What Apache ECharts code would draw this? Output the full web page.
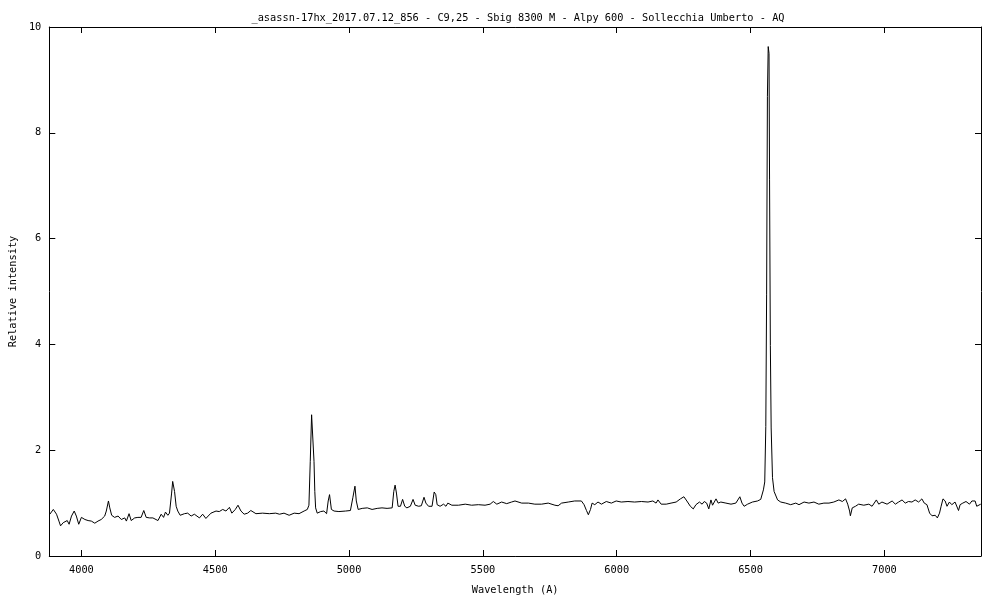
<!DOCTYPE html>
<html>
<head>
<meta charset="utf-8">
<script src="https://cdn.jsdelivr.net/npm/echarts@6/dist/echarts.min.js"></script>
<style>html,body{margin:0;padding:0;background:#fff}#c{width:1000px;height:600px}</style>
</head>
<body>
<div id="c"></div>
<script>
var wavelength = [3882,3895,3907,3916,3922,3932,3939,3947,3954,3963,3973,3981,3990,4000,4013,4025,4037,4050,4062,4074,4087,4093,4101,4106,4113,4124,4137,4149,4162,4168,4178,4186,4199,4211,4223,4233,4242,4255,4267,4286,4298,4307,4314,4323,4329,4337,4341,4348,4354,4360,4369,4385,4397,4410,4422,4441,4453,4465,4484,4503,4515,4528,4540,4553,4562,4575,4585,4596,4608,4621,4633,4652,4677,4702,4726,4740,4757,4776,4795,4813,4832,4844,4850,4855,4860,4865,4869,4872,4875,4881,4894,4906,4916,4922,4927,4934,4944,4962,4987,5005,5014,5022,5027,5034,5049,5068,5086,5105,5123,5142,5161,5167,5172,5177,5183,5192,5200,5208,5216,5229,5239,5247,5260,5270,5280,5287,5297,5310,5318,5324,5329,5340,5353,5362,5369,5384,5409,5434,5458,5483,5508,5527,5539,5552,5570,5589,5607,5620,5645,5670,5694,5719,5744,5769,5781,5794,5819,5843,5868,5878,5887,5894,5902,5908,5918,5930,5943,5961,5980,5998,6017,6042,6067,6092,6117,6135,6147,6154,6166,6185,6203,6222,6238,6251,6262,6275,6286,6296,6309,6319,6327,6336,6344,6352,6358,6364,6371,6379,6389,6408,6427,6445,6460,6468,6476,6489,6507,6526,6538,6548,6553,6557,6560,6563,6566,6569,6571,6574,6577,6582,6588,6601,6613,6631,6650,6669,6681,6700,6718,6737,6755,6774,6793,6811,6830,6843,6855,6863,6870,6873,6880,6892,6904,6923,6942,6954,6970,6979,6991,7010,7029,7041,7053,7066,7078,7090,7103,7115,7128,7140,7149,7159,7169,7178,7190,7198,7206,7212,7219,7227,7234,7243,7252,7264,7277,7283,7293,7305,7318,7327,7339,7345,7351,7360];
var intensity = [0.79,0.88,0.79,0.66,0.57,0.63,0.60,0.67,0.60,0.755,0.85,0.755,0.60,0.73,0.69,0.67,0.66,0.62,0.66,0.69,0.755,0.85,1.04,0.91,0.77,0.73,0.755,0.69,0.72,0.66,0.80,0.67,0.72,0.73,0.73,0.86,0.73,0.72,0.72,0.67,0.79,0.73,0.83,0.77,0.81,1.19,1.41,1.22,0.94,0.85,0.77,0.80,0.81,0.755,0.79,0.72,0.79,0.71,0.81,0.85,0.84,0.88,0.85,0.92,0.81,0.88,0.96,0.85,0.79,0.81,0.86,0.80,0.81,0.80,0.81,0.79,0.81,0.77,0.81,0.80,0.85,0.88,0.96,1.79,2.67,2.66,1.79,1.22,0.91,0.81,0.84,0.85,0.80,1.04,1.16,0.88,0.85,0.84,0.85,0.86,1.10,1.32,1.04,0.88,0.90,0.91,0.88,0.90,0.91,0.90,0.91,1.22,1.34,1.19,0.94,0.94,1.07,0.94,0.91,0.94,1.07,0.96,0.94,0.95,1.11,1.00,0.94,0.94,1.21,1.16,0.97,0.94,0.98,0.94,1.00,0.96,0.96,0.98,0.96,0.97,0.96,0.98,1.03,0.98,1.02,0.99,1.02,1.04,1.00,1.00,0.98,0.98,1.00,0.96,0.95,1.00,1.02,1.04,1.04,0.97,0.86,0.78,0.88,1.00,0.97,1.02,0.98,1.03,1.00,1.04,1.02,1.03,1.02,1.03,1.02,1.04,1.00,1.06,0.98,0.98,1.00,1.02,1.08,1.12,1.04,0.94,0.89,0.97,1.02,0.98,1.03,1.00,0.89,1.06,0.96,0.94,1.08,1.00,1.02,1.00,0.98,1.00,1.12,1.00,0.94,0.98,1.02,1.04,1.07,1.25,1.40,2.45,4.95,8.69,9.63,9.50,7.11,3.98,2.42,1.48,1.22,1.06,1.02,1.00,0.97,1.00,0.97,1.02,1.00,1.02,0.98,1.00,1.00,1.02,1.06,1.03,1.08,0.98,0.85,0.76,0.91,0.94,0.98,0.96,0.98,0.94,1.06,0.98,1.02,0.98,1.04,0.98,1.02,1.06,1.00,1.03,1.02,1.06,1.02,1.08,1.00,0.97,0.81,0.76,0.77,0.72,0.81,0.94,1.08,1.04,0.94,1.02,0.97,1.02,0.86,0.97,1.00,1.03,0.98,1.04,1.04,0.94,0.97,0.98];
var xTicks = [4000,4500,5000,5500,6000,6500,7000];
var yTicks = [0,2,4,6,8,10];

var FONT = 'DejaVu Sans Mono';
var data = wavelength.map(function (w, i) { return [w, intensity[i]]; });
var lineStyle = { color: '#000', width: 1 };
function plain(v) { return String(v); }
function xAx(pos, showLabel) {
  return {
    type: 'value', position: pos, min: 3880, max: 7361,
    axisLine: { show: true, onZero: false, lineStyle: lineStyle },
    axisTick: { show: true, inside: true, length: 6, lineStyle: lineStyle, customValues: xTicks },
    axisLabel: { show: showLabel, customValues: xTicks, formatter: plain, color: '#000', fontFamily: FONT, fontSize: 10.3, margin: 9 },
    splitLine: { show: false },
    name: showLabel ? 'Wavelength (A)' : '', nameLocation: 'middle', nameGap: 29,
    nameTextStyle: { color: '#000', fontFamily: FONT, fontSize: 10.3 }
  };
}
function yAx(pos, showLabel) {
  return {
    type: 'value', position: pos, min: 0, max: 10,
    axisLine: { show: true, onZero: false, lineStyle: lineStyle },
    axisTick: { show: true, inside: true, length: 6, lineStyle: lineStyle, customValues: yTicks },
    axisLabel: { show: showLabel, customValues: yTicks, formatter: plain, color: '#000', fontFamily: FONT, fontSize: 10.3, margin: 8 },
    splitLine: { show: false },
    name: showLabel ? 'Relative intensity' : '', nameLocation: 'middle', nameGap: 30, nameRotate: 90,
    nameTextStyle: { color: '#000', fontFamily: FONT, fontSize: 10.3 }
  };
}
var chart = echarts.init(document.getElementById('c'), null, { renderer: 'canvas' });
chart.setOption({
  animation: false,
  backgroundColor: '#fff',
  title: {
    text: '_asassn-17hx_2017.07.12_856 - C9,25 - Sbig 8300 M - Alpy 600 - Sollecchia Umberto - AQ',
    left: 513, top: 8, textAlign: 'center',
    textStyle: { color: '#000', fontFamily: FONT, fontSize: 10.3, fontWeight: 'normal' }
  },
  grid: { left: 46, right: 19, top: 27, bottom: 41, containLabel: false },
  xAxis: [xAx('bottom', true), xAx('top', false)],
  yAxis: [yAx('left', true), yAx('right', false)],
  series: [{
    type: 'line', data: data, xAxisIndex: 0, yAxisIndex: 0,
    showSymbol: false, symbol: 'none', smooth: false,
    lineStyle: { color: '#000', width: 1 }
  }]
});
</script>
</body>
</html>
